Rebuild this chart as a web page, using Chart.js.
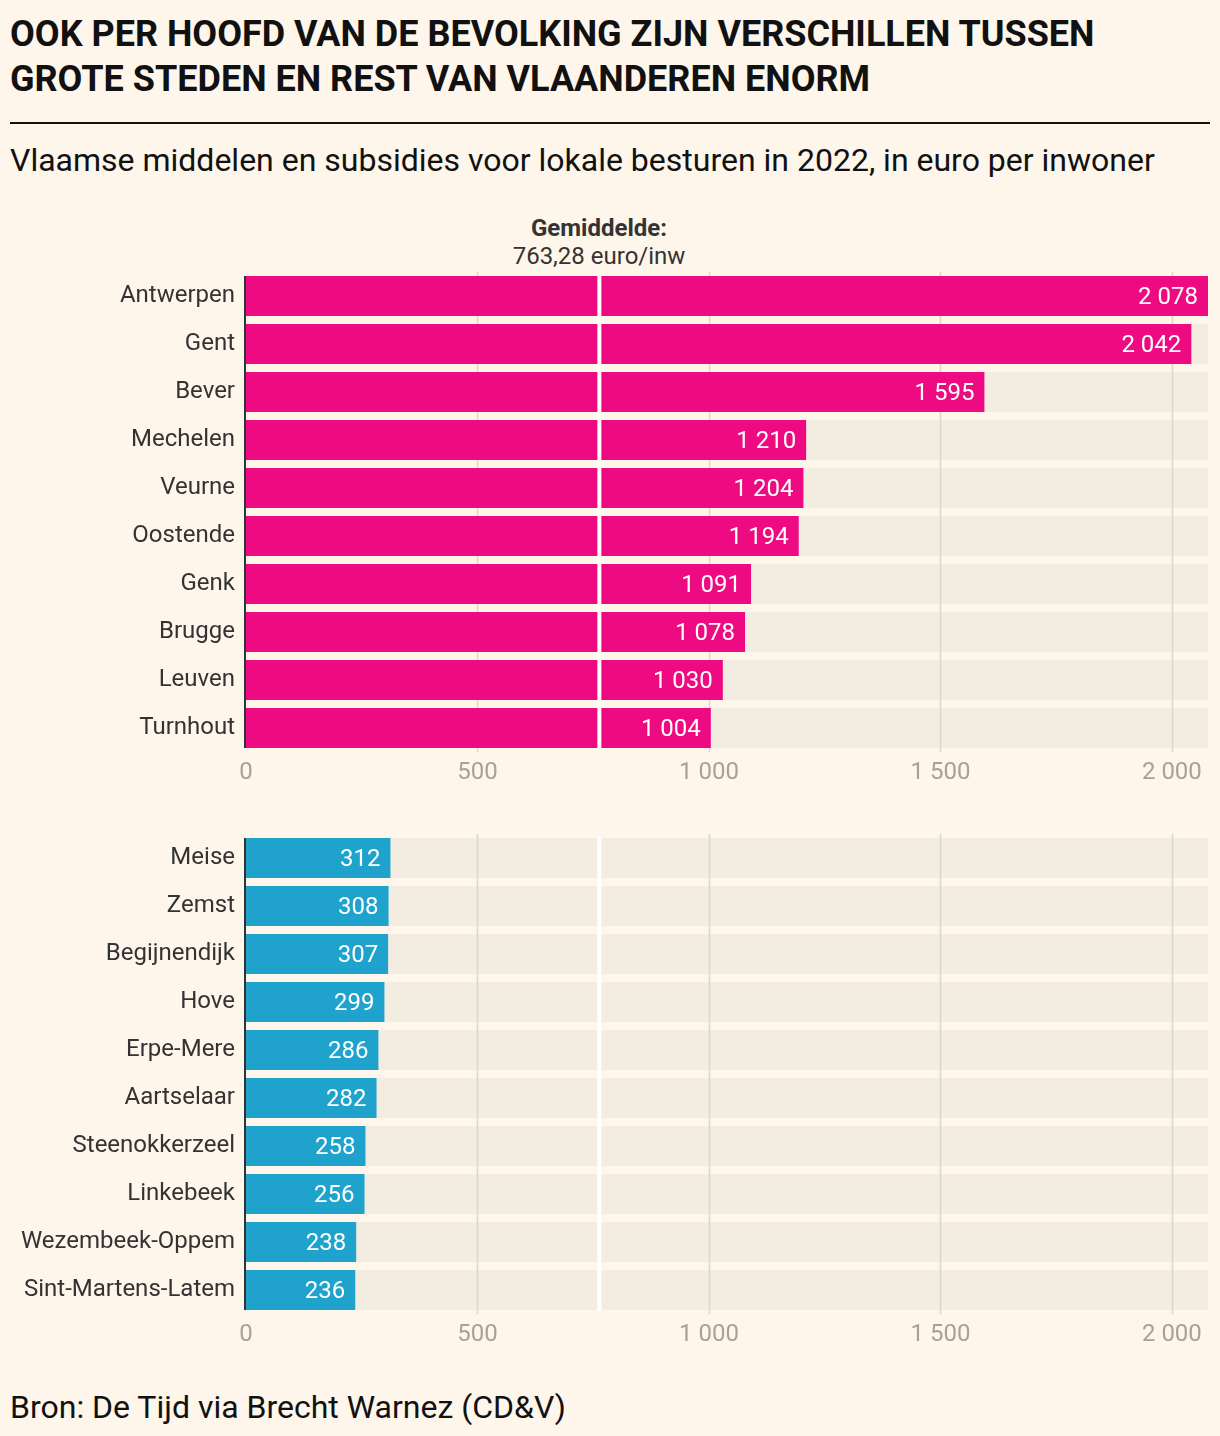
<!DOCTYPE html>
<html>
<head>
<meta charset="utf-8">
<script src="https://cdn.jsdelivr.net/npm/chart.js@4"></script>
<style>
  html, body { margin:0; padding:0; background:#fef6ea; }
  body { width:1220px; height:1436px; position:relative; overflow:hidden; font-family: Roboto, "Noto Sans", sans-serif; color:#111; }
  #title { position:absolute; left:10px; top:12px; font-size:36px; font-weight:700; line-height:45px; color:#111; white-space:nowrap; }
  #rule { position:absolute; left:10px; top:122px; width:1200px; height:2px; background:#111; }
  #subtitle { position:absolute; left:10px; top:141px; font-size:32px; line-height:38px; color:#111; white-space:nowrap; }
  #avg { position:absolute; left:449px; width:300px; top:214px; text-align:center; font-size:24px; line-height:28px; color:#333; }
  #avg b { font-weight:700; }
  #source { position:absolute; left:10px; top:1388px; font-size:32px; line-height:38px; color:#111; white-space:nowrap; }
  .wrap { position:absolute; left:0; width:1220px; height:520px; }
  .wrap canvas { display:block; }
  #w1 { top:272px; }
  #w2 { top:834px; }
</style>
</head>
<body>
<div id="title">OOK PER HOOFD VAN DE BEVOLKING ZIJN VERSCHILLEN TUSSEN<br>GROTE STEDEN EN REST VAN VLAANDEREN ENORM</div>
<div id="rule"></div>
<div id="subtitle">Vlaamse middelen en subsidies voor lokale besturen in 2022, in euro per inwoner</div>
<div id="avg"><b>Gemiddelde:</b><br>763,28 euro/inw</div>
<div class="wrap" id="w1"><canvas id="c1" width="1220" height="520"></canvas></div>
<div class="wrap" id="w2"><canvas id="c2" width="1220" height="520"></canvas></div>
<div id="source">Bron: De Tijd via Brecht Warnez (CD&amp;V)</div>
<script>
const topCities = ["Antwerpen","Gent","Bever","Mechelen","Veurne","Oostende","Genk","Brugge","Leuven","Turnhout"];
const topValues = [2078,2042,1595,1210,1204,1194,1091,1078,1030,1004];
const bottomCities = ["Meise","Zemst","Begijnendijk","Hove","Erpe-Mere","Aartselaar","Steenokkerzeel","Linkebeek","Wezembeek-Oppem","Sint-Martens-Latem"];
const bottomValues = [312,308,307,299,286,282,258,256,238,236];
const xTicks = [0,500,1000,1500,2000];
const axisMax = 2078;
const average = 763.28;

function fmt(v){ return String(Math.round(v)).replace(/\B(?=(\d{3})+(?!\d))/g, " "); }

const FONT = "Roboto, 'Noto Sans', sans-serif";

const overlay = {
  id: 'overlay',
  afterDatasetDraw(chart, args) {
    // gridlines above track background, below value bars
    if (args.index !== 1) return;
    const ctx = chart.ctx, xs = chart.scales.x, area = chart.chartArea;
    ctx.save();
    ctx.strokeStyle = '#dcd7cc';
    ctx.lineWidth = 1.5;
    xTicks.forEach(t => {
      if (t === 0) return;
      const x = Math.round(xs.getPixelForValue(t)) + 0.5;
      ctx.beginPath(); ctx.moveTo(x, area.top); ctx.lineTo(x, area.bottom); ctx.stroke();
    });
    ctx.restore();
  },
  afterDatasetsDraw(chart) {
    const ctx = chart.ctx, xs = chart.scales.x, area = chart.chartArea;
    const meta = chart.getDatasetMeta(0);
    const vals = chart.data.datasets[0].data;
    ctx.save();
    ctx.font = "24px " + FONT;
    ctx.fillStyle = '#ffffff';
    ctx.textAlign = 'right';
    ctx.textBaseline = 'middle';
    meta.data.forEach((bar, i) => {
      ctx.fillText(fmt(vals[i]), bar.x - 10, bar.y + 2);
    });
    const first = meta.data[0], last = meta.data[meta.data.length - 1];
    const topY = first.y - first.height/2, botY = last.y + last.height/2;
    const ax = xs.getPixelForValue(average);
    ctx.fillStyle = '#ffffff';
    ctx.fillRect(ax - 2, topY - 1, 4, botY - topY + 2);
    ctx.fillStyle = '#333333';
    ctx.fillRect(area.left - 2, topY, 2, botY - topY);
    ctx.restore();
  }
};

function makeChart(id, labels, values, color) {
  return new Chart(document.getElementById(id), {
    type: 'bar',
    data: {
      labels: labels,
      datasets: [
        { data: values, backgroundColor: color, grouped: false, barPercentage: 1, categoryPercentage: 40/48, borderWidth: 0 },
        { data: labels.map(() => axisMax), backgroundColor: '#f3ece1', grouped: false, barPercentage: 1, categoryPercentage: 40/48, borderWidth: 0 }
      ]
    },
    options: {
      indexAxis: 'y',
      responsive: false,
      animation: false,
      devicePixelRatio: 1,
      layout: { padding: { top: 0, right: 12, left: 0, bottom: 0 } },
      plugins: { legend: { display: false }, tooltip: { enabled: false } },
      scales: {
        x: {
          min: 0, max: axisMax,
          afterBuildTicks(axis) { axis.ticks = xTicks.map(v => ({ value: v })); },
          afterFit(axis) { axis.height = 40; axis.paddingLeft = 0; axis.paddingRight = 0; },
          grid: { display: false, drawTicks: false },
          border: { display: false },
          ticks: { color: '#a8a197', font: { family: FONT, size: 24 }, padding: 7, maxRotation: 0, autoSkip: false, callback: v => fmt(v) }
        },
        y: {
          afterFit(axis) { axis.width = 246; axis.paddingTop = 0; axis.paddingBottom = 0; },
          grid: { display: false, drawTicks: false },
          border: { display: false },
          ticks: { color: '#333333', font: { family: FONT, size: 24 }, padding: 11 }
        }
      }
    },
    plugins: [overlay]
  });
}

makeChart('c1', topCities, topValues, '#ee0a80');
makeChart('c2', bottomCities, bottomValues, '#1fa3cc');
</script>
</body>
</html>
